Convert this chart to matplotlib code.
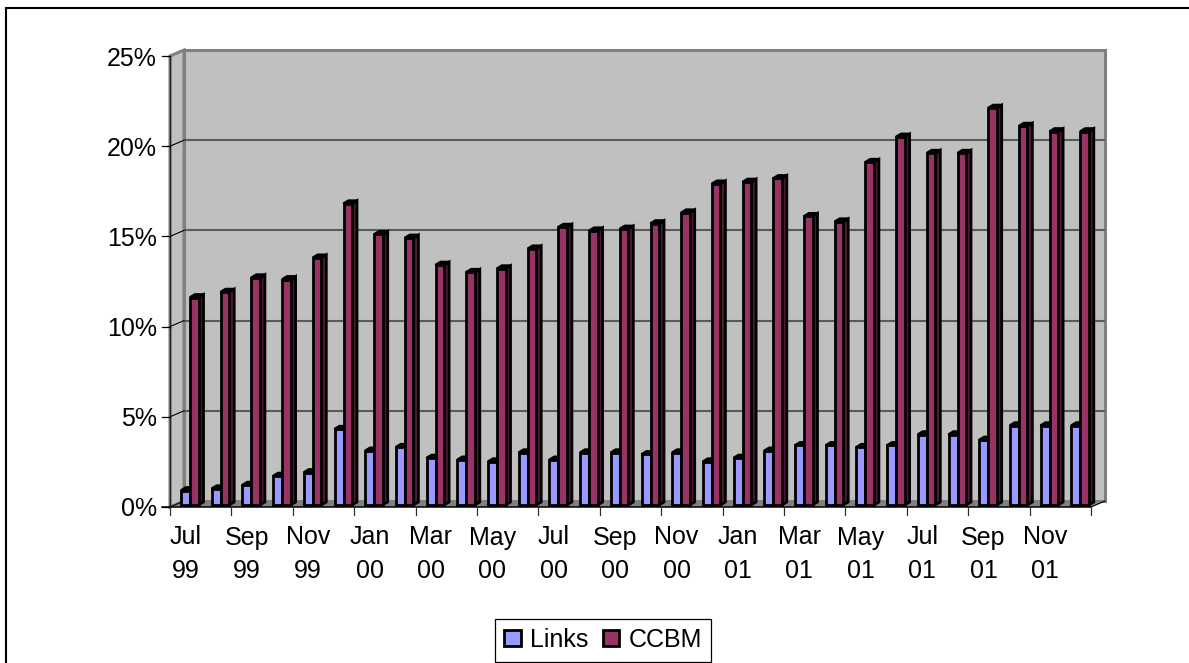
import matplotlib
matplotlib.use("Agg")
import matplotlib.pyplot as plt
import numpy as np
from matplotlib.patches import Polygon, Patch
from matplotlib.lines import Line2D

plt.rcParams['font.family'] = ['Liberation Sans', 'DejaVu Sans']

tick_labels = ["Jul\n99", "Sep\n99", "Nov\n99", "Jan\n00", "Mar\n00", "May\n00", "Jul\n00", "Sep\n00",
               "Nov\n00", "Jan\n01", "Mar\n01", "May\n01", "Jul\n01", "Sep\n01", "Nov\n01"]
links = [0.8, 0.9, 1.1, 1.6, 1.8, 4.2, 3.0, 3.2, 2.6, 2.5, 2.4, 2.9, 2.5, 2.9, 2.9,
         2.8, 2.9, 2.4, 2.6, 3.0, 3.3, 3.3, 3.2, 3.3, 3.9, 3.9, 3.6, 4.4, 4.4, 4.4]
ccbm = [11.5, 11.8, 12.6, 12.5, 13.7, 16.7, 15.0, 14.8, 13.3, 12.9, 13.1, 14.2, 15.4, 15.2, 15.3,
        15.6, 16.2, 17.8, 17.9, 18.1, 16.0, 15.7, 19.0, 20.4, 19.5, 19.5, 22.0, 21.0, 20.7, 20.7]
y_ticks = [0, 5, 10, 15, 20, 25]

W, H = 1189, 663
fig = plt.figure(figsize=(W / 100, H / 100), dpi=100)
ax = fig.add_axes([170 / W, (H - 507) / H, 921 / W, 451 / H])
n = len(ccbm)
ax.set_xlim(0, n)
ax.set_ylim(0, 25)
ax.axis('off')

PX = n / 921          # data units per pixel, x
PY = 25 / 451         # data units per pixel, y
WX, WY = 14 * PX, 6 * PY   # wall depth
BX, BY = 5 * PX, 3 * PY    # bar depth
BASE = 2 * PY
LW = 2.0              # bar outline, about 3 px

def poly(pts, fc, ec='none', lw=0, z=1):
    ax.add_patch(Polygon(pts, closed=True, facecolor=fc, edgecolor=ec, linewidth=lw,
                         zorder=z, clip_on=False, joinstyle='miter'))

# walls and floor
poly([(WX, WY), (n + WX, WY), (n + WX, 25 + WY), (WX, 25 + WY)], '#C0C0C0', '#808080', 2.2, z=1)
poly([(0, 0), (WX, WY), (WX, 25 + WY), (0, 25)], '#C0C0C0', '#808080', 2.2, z=1.1)
poly([(0, 0), (n, 0), (n + WX, WY), (WX, WY)], '#808080', z=1.2)

# gridlines
for t in y_ticks[1:-1]:
    ax.plot([WX, n + WX], [t + WY, t + WY], color='#5a5a5a', lw=1.5, zorder=1.5, clip_on=False,
            solid_capstyle='butt')
for t in y_ticks[:-1]:
    ax.plot([0, WX], [t, t + WY], color='black', lw=0.8, zorder=1.6, clip_on=False)
ax.plot([n, n + WX], [0, WY], color='black', lw=0.8, zorder=1.6, clip_on=False)

# axis lines and ticks
ax.plot([0, 0], [0, 25], color='#202020', lw=1.0, zorder=1.7, clip_on=False)
ax.plot([-8 * PX, n], [0, 0], color='black', lw=1.1, zorder=1.7, clip_on=False)
for t in y_ticks:
    ax.plot([-8 * PX, 0], [t, t], color='black', lw=0.9, zorder=1.7, clip_on=False)
    ax.text(-13 * PX, t, f"{t}%", ha='right', va='center_baseline', fontsize=18, color='black')
for i in range(0, n + 1, 2):
    ax.plot([i, i], [0, -8 * PY], color='#303030', lw=0.9, zorder=1.7, clip_on=False)
for i, lab in enumerate(tick_labels):
    a, b = lab.split("\n")
    ax.text(2 * i + 0.5, -28 * PY, a, ha='center', va='center_baseline', fontsize=18)
    ax.text(2 * i + 0.5, -61.5 * PY, b, ha='center', va='center_baseline', fontsize=18)

# bars
x = np.arange(n)
def series(vals, x0, width, face, side, top, z0):
    ax.bar(x + x0, vals, width=width, bottom=BASE, align='edge', color=face, edgecolor='black',
           linewidth=LW, zorder=z0 + 0.2, clip_on=False)
    for i, v in enumerate(vals):
        l, r = i + x0, i + x0 + width
        t = BASE + v
        poly([(r, BASE), (r + BX, BASE + BY), (r + BX, t + BY), (r, t)], side, 'black', LW, z=z0)
        poly([(l, t), (r, t), (r + BX, t + BY), (l + BX, t + BY)], top, 'black', LW, z=z0 + 0.1)

series(links, 11 * PX, 9 * PX, '#9999FF', '#4D4D80', '#4D4D80', 2.0)
series(ccbm, 20 * PX, 8.5 * PX, '#993366', '#4D1A33', '#4D1A33', 3.0)

# chart frame (open at the right and bottom)
fig.add_artist(Line2D([6 / W, 6 / W, 1], [0, (H - 8) / H, (H - 8) / H], color='black', lw=1.5,
                      solid_joinstyle='miter'))

# legend
handles = [Patch(facecolor='#9999FF', edgecolor='black', linewidth=LW, label='Links'),
           Patch(facecolor='#993366', edgecolor='black', linewidth=LW, label='CCBM')]
leg = fig.legend(handles=handles, ncols=2, loc='center', bbox_to_anchor=(603 / W, (H - 640) / H),
                 fontsize=18, frameon=True, fancybox=False, edgecolor='black', framealpha=1,
                 handlelength=0.66, handleheight=0.62, handletextpad=0.36, columnspacing=0.58,
                 borderpad=0.38, borderaxespad=0)
leg.get_frame().set_linewidth(0.9)

fig.savefig('out.png', dpi=100)
